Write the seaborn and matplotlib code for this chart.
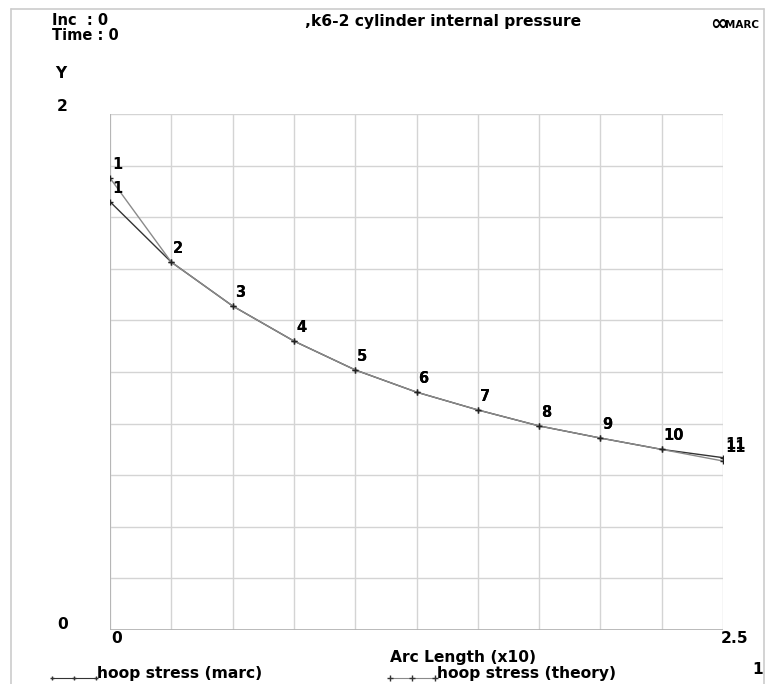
import matplotlib
matplotlib.use("Agg")
import matplotlib.pyplot as plt
import seaborn as sns
import pandas as pd
from matplotlib.lines import Line2D

# ---- data ----
arc_length = [0.0, 0.25, 0.5, 0.75, 1.0, 1.25, 1.5, 1.75, 2.0, 2.25, 2.5]
hoop_marc = [1.660, 1.426, 1.256, 1.120, 1.008, 0.922, 0.853, 0.791, 0.744, 0.700, 0.668]
hoop_theory = [1.752, 1.426, 1.256, 1.120, 1.008, 0.922, 0.853, 0.791, 0.744, 0.700, 0.655]
point_labels = ["1", "2", "3", "4", "5", "6", "7", "8", "9", "10", "11"]
series_names = ["hoop stress (marc)", "hoop stress (theory)"]
x_ticks = [0, 2.5]
x_tick_labels = ["0", "2.5"]
y_ticks = [0, 2]
y_tick_labels = ["0", "2"]

sns.set_style("white")
plt.rcParams["font.family"] = ["DejaVu Sans"]
plt.rcParams["text.color"] = "black"

W, H = 771, 684
fig = plt.figure(figsize=(W / 100, H / 100), dpi=100)
fig.patch.set_facecolor("white")

x0, x1, y0, y1 = 110, 723, 114, 630
ax = fig.add_axes([x0 / W, 1 - y1 / H, (x1 - x0) / W, (y1 - y0) / H])

df = pd.DataFrame({
    "x": arc_length * 2,
    "y": hoop_marc + hoop_theory,
    "series": [series_names[0]] * len(arc_length) + [series_names[1]] * len(arc_length),
})
colors = {series_names[0]: "#333333", series_names[1]: "#8a8a8a"}
sns.lineplot(data=df, x="x", y="y", hue="series", palette=colors, ax=ax,
             marker="+", markersize=4, markeredgewidth=1.0, linewidth=1.0,
             legend=False, sort=False)
for line in ax.lines:
    line.set_markeredgecolor("#222222")

fs = 11.2
# point number labels
for xs, ys in [(arc_length, hoop_marc), (arc_length, hoop_theory)]:
    for xv, yv, lab in zip(xs, ys, point_labels):
        ax.annotate(lab, (xv, yv), xytext=(2, 6), textcoords="offset pixels",
                    fontsize=10.5, weight="bold", color="black", ha="left", va="bottom",
                    annotation_clip=False)

ax.set_xlim(0, 2.5)
ax.set_ylim(0, 2)
ax.set_xticks([i * 0.25 for i in range(11)])
ax.set_yticks([i * 0.2 for i in range(11)])
ax.set_xticklabels([])
ax.set_yticklabels([])
ax.tick_params(length=0)
ax.grid(True, color="#d4d4d4", linewidth=1.0)
for s in ax.spines.values():
    s.set_visible(False)
ax.axvline(0, color="#b0b0b0", linewidth=1.2, zorder=1)
ax.axhline(0, color="#b0b0b0", linewidth=1.2, zorder=1)
ax.set_xlabel("")
ax.set_ylabel("")

def ftext(px, py, s, **kw):
    kw.setdefault("fontsize", fs)
    kw.setdefault("weight", "bold")
    kw.setdefault("va", "top")
    kw.setdefault("ha", "left")
    kw.setdefault("color", "black")
    fig.text(px / W, 1 - py / H, s, **kw)

# frame around figure
fig.add_artist(Line2D([11 / W, 11 / W], [0, 1 - 9 / H], color="#cccccc", lw=1.2))
fig.add_artist(Line2D([11 / W, 764 / W], [1 - 9 / H, 1 - 9 / H], color="#cccccc", lw=1.2))
fig.add_artist(Line2D([764 / W, 764 / W], [0, 1 - 9 / H], color="#cccccc", lw=1.2))

ftext(52, 13, "Inc  : 0", fontsize=10.5)
ftext(52, 28, "Time : 0", fontsize=10.5)
ftext(305, 14, ",k6-2 cylinder internal pressure")
ftext(710, 14, "\u221e", fontsize=15, weight="bold")
ftext(725, 20, "MARC", fontsize=7.5, weight="bold")
ftext(55, 66, "Y")
ftext(57, 99, y_tick_labels[1])
ftext(57, 617, y_tick_labels[0])
ftext(111, 631, x_tick_labels[0])
ftext(721, 631, x_tick_labels[1])
ftext(390, 650, "Arc Length (x10)")
ftext(752, 662, "1")

# legend
ly = 678
fig.add_artist(Line2D([52 / W, 74 / W, 96 / W], [1 - ly / H] * 3, color="#333333", lw=0.8,
                      marker="+", markersize=3, markeredgecolor="#333333"))
ftext(97, 666, series_names[0])
fig.add_artist(Line2D([390 / W, 412 / W, 435 / W], [1 - ly / H] * 3, color="#8a8a8a", lw=0.8,
                      marker="+", markersize=4, markeredgecolor="#333333"))
ftext(437, 666, series_names[1])

fig.savefig("out.png", dpi=100, facecolor="white")
